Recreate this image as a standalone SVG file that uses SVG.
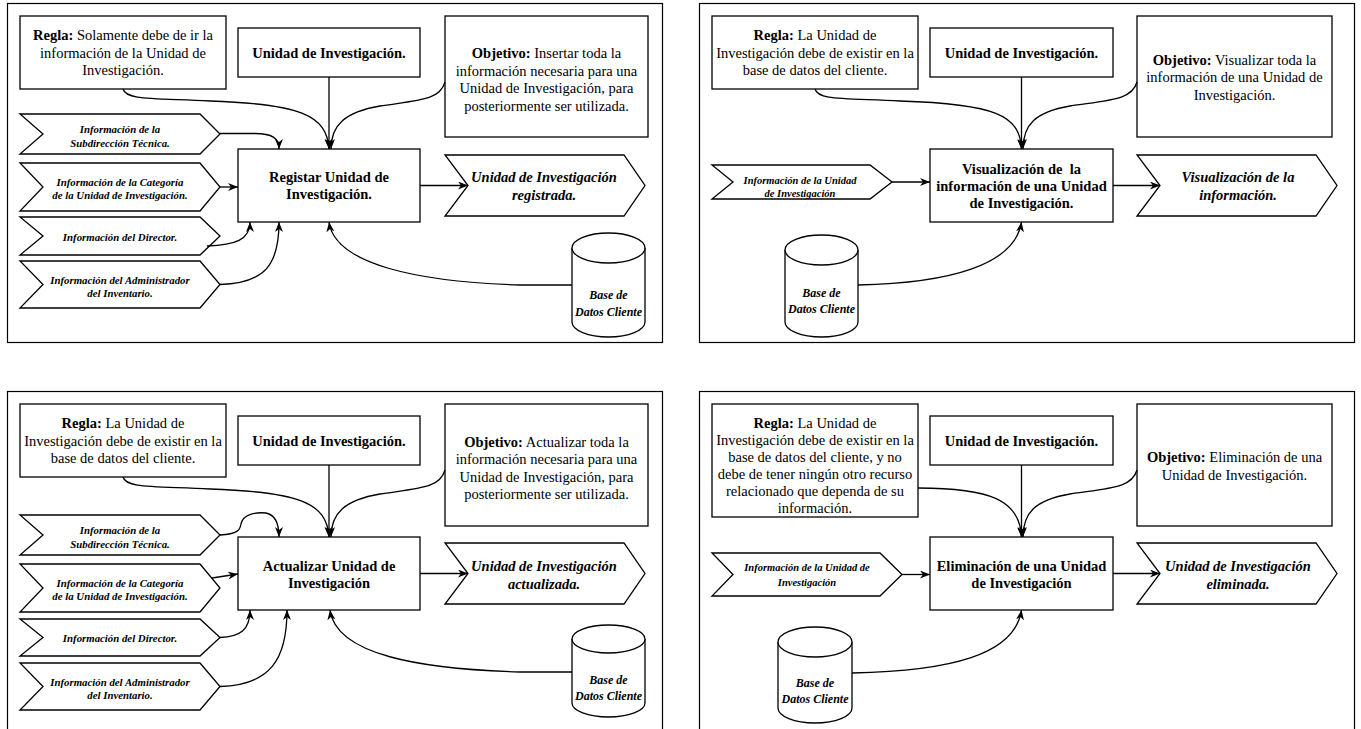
<svg xmlns="http://www.w3.org/2000/svg" width="1361" height="729" viewBox="0 0 1361 729">
<style>
.frame{fill:none;stroke:#000;stroke-width:1.2}
.box{fill:#fff;stroke:#000;stroke-width:1.3}
.t{font-family:"Liberation Serif","Times New Roman",serif;font-size:14.5px;fill:#000;text-anchor:middle}
.b{font-weight:bold}
.bi{font-weight:bold;font-style:italic}
.s{font-family:"Liberation Serif","Times New Roman",serif;font-size:10.8px;font-weight:bold;font-style:italic;fill:#000;text-anchor:middle}
.db{font-family:"Liberation Serif","Times New Roman",serif;font-size:12px;font-weight:bold;font-style:italic;fill:#000;text-anchor:middle}
.c{fill:none;stroke:#000;stroke-width:1.3;marker-end:url(#arr)}
</style>
<defs>
<marker id="arr" viewBox="0 0 10 8" refX="10" refY="4" markerWidth="10" markerHeight="8" markerUnits="userSpaceOnUse" orient="auto"><path d="M0,0 L10,4 L0,8 L3,4 Z" fill="#000"/></marker>
</defs>
<rect width="1361" height="729" fill="#fff"/>

<!-- Panel frames -->
<g id="frames">
<rect class="frame" x="7.5" y="3.5" width="655" height="339"/>
<rect class="frame" x="699.5" y="3.5" width="655" height="339"/>
<rect class="frame" x="7.5" y="391.5" width="655" height="345"/>
<rect class="frame" x="699.5" y="391.5" width="655" height="345"/>
</g>

<!-- ===== Panel 1 (top-left) ===== -->
<g id="p1-regla"><rect class="box" x="20" y="16" width="206" height="73"/>
<text class="t" x="123"><tspan x="123" y="40"><tspan class="b">Regla:</tspan> Solamente debe de ir la</tspan><tspan x="123" y="57.5">información de la Unidad de</tspan><tspan x="123" y="75">Investigación.</tspan></text></g>
<g id="p1-unidad"><rect class="box" x="238" y="28" width="182" height="49"/>
<text class="t b" x="329" y="57.5">Unidad de Investigación.</text></g>
<g id="p1-objetivo"><rect class="box" x="445" y="16" width="203" height="121"/>
<text class="t"><tspan x="546.5" y="58"><tspan class="b">Objetivo:</tspan> Insertar toda la</tspan><tspan x="546.5" y="75.5">información necesaria para una</tspan><tspan x="546.5" y="93">Unidad de Investigación, para</tspan><tspan x="546.5" y="110.5">posteriormente ser utilizada.</tspan></text></g>
<g id="p1-main"><rect class="box" x="238" y="149" width="182" height="73"/>
<text class="t b"><tspan x="329" y="182">Registar Unidad de</tspan><tspan x="329" y="199">Investigación.</tspan></text></g>
<g id="p1-output"><polygon class="box" points="445,155 624,155 645,185.5 624,216 445,216 468,185.5"/>
<text class="t bi"><tspan x="544" y="182">Unidad de Investigación</tspan><tspan x="544" y="200">registrada.</tspan></text></g>
<g id="p1-db"><path class="box" d="M572,248 A36.5,15 0 0 1 645,248 L645,322 A36.5,15 0 0 1 572,322 Z"/><path class="box" fill="none" d="M572,248 A36.5,15 0 0 0 645,248"/>
<text class="db"><tspan x="608.5" y="299">Base de</tspan><tspan x="608.5" y="316">Datos Cliente</tspan></text></g>
<g id="p1-in1"><polygon class="box" points="20,114 200,114 220,134 200,154 20,154 43,134"/>
<text class="s"><tspan x="120" y="133">Información de la</tspan><tspan x="120" y="147">Subdirección Técnica.</tspan></text></g>
<g id="p1-in2"><polygon class="box" points="20,163 200,163 220,187 200,211 20,211 43,187"/>
<text class="s"><tspan x="120" y="185.5">Información de la Categoría</tspan><tspan x="120" y="198.5">de la Unidad de Investigación.</tspan></text></g>
<g id="p1-in3"><polygon class="box" points="20,217 200,217 220,236 200,255 20,255 43,236"/>
<text class="s" x="120" y="241">Información del Director.</text></g>
<g id="p1-in4"><polygon class="box" points="20,261 200,261 220,284.5 200,308 20,308 43,284.5"/>
<text class="s"><tspan x="120" y="284">Información del Administrador</tspan><tspan x="120" y="297">del Inventario.</tspan></text></g>

<!-- ===== Panel 2 (top-right) ===== -->
<g id="p2-regla"><rect class="box" x="712" y="16" width="206" height="73"/>
<text class="t"><tspan x="815" y="40"><tspan class="b">Regla:</tspan> La Unidad de</tspan><tspan x="815" y="57.5">Investigación debe de existir en la</tspan><tspan x="815" y="75">base de datos del cliente.</tspan></text></g>
<g id="p2-unidad"><rect class="box" x="930" y="28" width="183" height="49"/>
<text class="t b" x="1021.5" y="57.5">Unidad de Investigación.</text></g>
<g id="p2-objetivo"><rect class="box" x="1137" y="16" width="195" height="121"/>
<text class="t"><tspan x="1234.5" y="64.5"><tspan class="b">Objetivo:</tspan> Visualizar toda la</tspan><tspan x="1234.5" y="82">información de una Unidad de</tspan><tspan x="1234.5" y="99.5">Investigación.</tspan></text></g>
<g id="p2-main"><rect class="box" x="930" y="149" width="183" height="73"/>
<text class="t b" style="white-space:pre"><tspan x="1021.5" y="174">Visualización de  la</tspan><tspan x="1021.5" y="191">información de una Unidad</tspan><tspan x="1021.5" y="208">de Investigación.</tspan></text></g>
<g id="p2-output"><polygon class="box" points="1137,155 1316,155 1337,185.5 1316,216 1137,216 1160,185.5"/>
<text class="t bi"><tspan x="1238" y="182">Visualización de la</tspan><tspan x="1238" y="200">información.</tspan></text></g>
<g id="p2-in"><polygon class="box" points="712,165 870,165 892,182 870,199 712,199 733,182"/>
<text class="s" style="font-size:10.5px"><tspan x="800" y="183.5">Información de la Unidad</tspan><tspan x="800" y="197">de Investigación</tspan></text></g>
<g id="p2-db"><path class="box" d="M785,250 A36.5,15 0 0 1 858,250 L858,322 A36.5,15 0 0 1 785,322 Z"/><path class="box" fill="none" d="M785,250 A36.5,15 0 0 0 858,250"/>
<text class="db"><tspan x="821.5" y="297">Base de</tspan><tspan x="821.5" y="313">Datos Cliente</tspan></text></g>

<!-- ===== Panel 3 (bottom-left) ===== -->
<g id="p3-regla"><rect class="box" x="20" y="404" width="206" height="73"/>
<text class="t"><tspan x="123" y="428"><tspan class="b">Regla:</tspan> La Unidad de</tspan><tspan x="123" y="445.5">Investigación debe de existir en la</tspan><tspan x="123" y="463">base de datos del cliente.</tspan></text></g>
<g id="p3-unidad"><rect class="box" x="238" y="416" width="182" height="49"/>
<text class="t b" x="329" y="445.5">Unidad de Investigación.</text></g>
<g id="p3-objetivo"><rect class="box" x="445" y="404" width="203" height="122"/>
<text class="t"><tspan x="546.5" y="446.5"><tspan class="b">Objetivo:</tspan> Actualizar toda la</tspan><tspan x="546.5" y="464">información necesaria para una</tspan><tspan x="546.5" y="481.5">Unidad de Investigación, para</tspan><tspan x="546.5" y="499">posteriormente ser utilizada.</tspan></text></g>
<g id="p3-main"><rect class="box" x="238" y="537" width="182" height="73"/>
<text class="t b"><tspan x="329" y="571">Actualizar Unidad de</tspan><tspan x="329" y="588">Investigación</tspan></text></g>
<g id="p3-output"><polygon class="box" points="445,543 624,543 645,573.5 624,604 445,604 468,573.5"/>
<text class="t bi"><tspan x="544" y="571">Unidad de Investigación</tspan><tspan x="544" y="589">actualizada.</tspan></text></g>
<g id="p3-db"><path class="box" d="M572,639 A36.5,14 0 0 1 645,639 L645,703 A36.5,14 0 0 1 572,703 Z"/><path class="box" fill="none" d="M572,639 A36.5,14 0 0 0 645,639"/>
<text class="db"><tspan x="608.5" y="684">Base de</tspan><tspan x="608.5" y="700">Datos Cliente</tspan></text></g>
<g id="p3-in1"><polygon class="box" points="20,515 200,515 220,535 200,555 20,555 43,535"/>
<text class="s"><tspan x="120" y="534">Información de la</tspan><tspan x="120" y="548">Subdirección Técnica.</tspan></text></g>
<g id="p3-in2"><polygon class="box" points="20,564 200,564 220,588 200,612 20,612 43,588"/>
<text class="s"><tspan x="120" y="586.5">Información de la Categoría</tspan><tspan x="120" y="599.5">de la Unidad de Investigación.</tspan></text></g>
<g id="p3-in3"><polygon class="box" points="20,619 200,619 220,637.5 200,656 20,656 43,637.5"/>
<text class="s" x="120" y="642">Información del Director.</text></g>
<g id="p3-in4"><polygon class="box" points="20,663 200,663 220,686.5 200,710 20,710 43,686.5"/>
<text class="s"><tspan x="120" y="685.5">Información del Administrador</tspan><tspan x="120" y="698.5">del Inventario.</tspan></text></g>

<!-- ===== Panel 4 (bottom-right) ===== -->
<g id="p4-regla"><rect class="box" x="712" y="404" width="206" height="113"/>
<text class="t"><tspan x="815" y="428"><tspan class="b">Regla:</tspan> La Unidad de</tspan><tspan x="815" y="445">Investigación debe de existir en la</tspan><tspan x="815" y="462">base de datos del cliente, y no</tspan><tspan x="815" y="479">debe de tener ningún otro recurso</tspan><tspan x="815" y="496">relacionado que dependa de su</tspan><tspan x="815" y="513">información.</tspan></text></g>
<g id="p4-unidad"><rect class="box" x="930" y="416" width="183" height="49"/>
<text class="t b" x="1021.5" y="445.5">Unidad de Investigación.</text></g>
<g id="p4-objetivo"><rect class="box" x="1137" y="404" width="195" height="122"/>
<text class="t"><tspan x="1234.5" y="462"><tspan class="b">Objetivo:</tspan> Eliminación de una</tspan><tspan x="1234.5" y="479.5">Unidad de Investigación.</tspan></text></g>
<g id="p4-main"><rect class="box" x="930" y="537" width="183" height="73"/>
<text class="t b"><tspan x="1021.5" y="571">Eliminación de una Unidad</tspan><tspan x="1021.5" y="588">de Investigación</tspan></text></g>
<g id="p4-output"><polygon class="box" points="1137,543 1316,543 1337,573.5 1316,604 1137,604 1160,573.5"/>
<text class="t bi"><tspan x="1238" y="571">Unidad de Investigación</tspan><tspan x="1238" y="589">eliminada.</tspan></text></g>
<g id="p4-in"><polygon class="box" points="712,553 880,553 902,574.5 880,596 712,596 733,574.5"/>
<text class="s" style="font-size:10.5px"><tspan x="807" y="571">Información de la Unidad de</tspan><tspan x="807" y="586">Investigación</tspan></text></g>
<g id="p4-db"><path class="box" d="M778,642 A37,15 0 0 1 852,642 L852,708 A37,15 0 0 1 778,708 Z"/><path class="box" fill="none" d="M778,642 A37,15 0 0 0 852,642"/>
<text class="db"><tspan x="815" y="687">Base de</tspan><tspan x="815" y="703">Datos Cliente</tspan></text></g>

<!-- ===== Connectors ===== -->
<g id="connectors">
<!-- panel 1 -->
<path class="c" d="M329,77 L329,149"/>
<path class="c" d="M123,89 C126,100 150,98 210,101 C300,104 327,115 329,149"/>
<path class="c" d="M445,82 C440,100 420,100 380,106 C345,112 331,125 331,149"/>
<path class="c" d="M220,133.5 L255,133.5 C272,133.5 279,138 279,149"/>
<path class="c" d="M220,187 L238,187"/>
<path class="c" d="M207,246 C235,245 250,240 250,222"/>
<path class="c" d="M220,284.5 C265,283 279,265 279,222"/>
<path class="c" d="M572,285 L520,285 C420,282 335,265 329,222"/>
<path class="c" d="M420,185.5 L468,185.5"/>
<!-- panel 2 -->
<path class="c" d="M1021.5,77 L1021.5,149"/>
<path class="c" d="M815,89 C818,100 840,98 900,101 C995,104 1020,115 1021.5,149"/>
<path class="c" d="M1137,82 C1132,100 1110,100 1070,106 C1035,112 1023,125 1023,149"/>
<path class="c" d="M892,182 L930,182"/>
<path class="c" d="M858,285 C950,283 1015,265 1021.5,222"/>
<path class="c" d="M1113,185.5 L1160,185.5"/>
<!-- panel 3 -->
<path class="c" d="M329,465 L329,537"/>
<path class="c" d="M123,477 C126,488 150,486 210,489 C300,492 327,503 329,537"/>
<path class="c" d="M445,470 C440,488 420,488 380,494 C345,500 331,513 331,537"/>
<path class="c" d="M220,535 C238,534 240,530 241,524 C243,514 256,512 266,513 C276,515 279,524 279,537"/>
<path class="c" d="M212,578 L238,574"/>
<path class="c" d="M220,637.5 C240,637 250,630 250,610"/>
<path class="c" d="M220,686.5 C270,685 287,660 287,610"/>
<path class="c" d="M572,672 L520,672 C420,669 336,655 330,610"/>
<path class="c" d="M420,573.5 L468,573.5"/>
<!-- panel 4 -->
<path class="c" d="M1021.5,465 L1021.5,537"/>
<path class="c" d="M918,488 C990,488 1020,500 1021.5,537"/>
<path class="c" d="M1137,470 C1132,488 1110,488 1070,494 C1035,500 1023,513 1023,537"/>
<path class="c" d="M902,574.5 L930,574.5"/>
<path class="c" d="M852,673 C950,671 1015,655 1021.5,610"/>
<path class="c" d="M1113,573.5 L1160,573.5"/>
</g>
</svg>
